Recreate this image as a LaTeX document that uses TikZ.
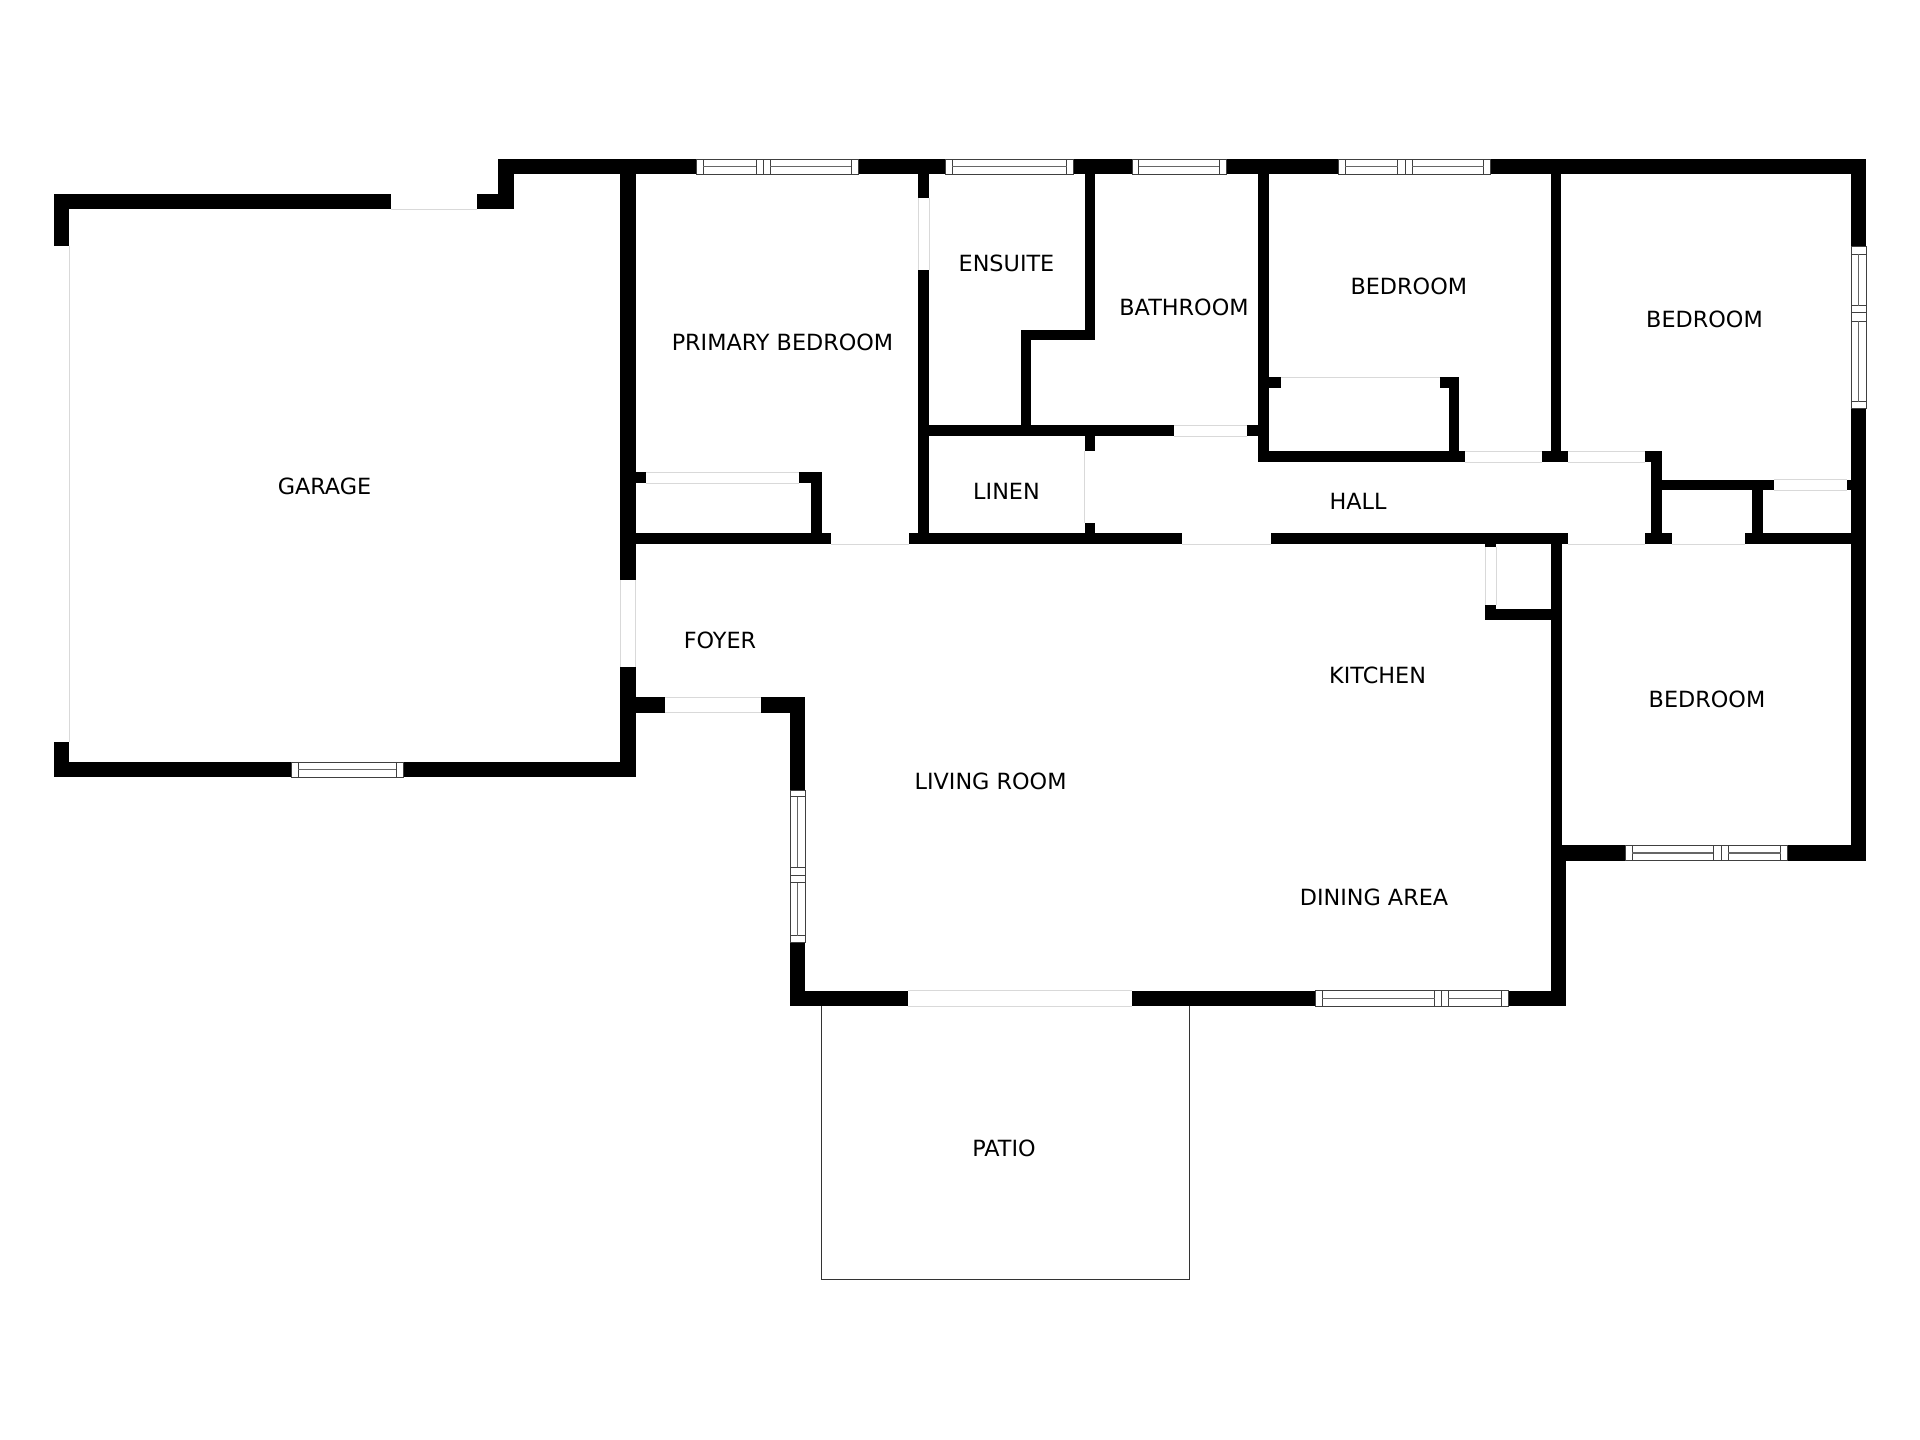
\documentclass[tikz,border=0pt]{standalone}
\usepackage{fontspec}
\setmainfont{DejaVu Sans}
\tikzset{
  wall/.style={fill=black},
  doorline/.style={draw=black!15, line width=0.25pt},
  pane/.style={draw=black!75, line width=0.25pt},
  panemid/.style={draw=black!60, line width=0.4pt},
  room/.style={font=\fontsize{6.35}{7}\selectfont, inner sep=0pt},
}
\begin{document}
\begin{tikzpicture}[x=0.01cm, y=-0.01cm]

    \useasboundingbox (0,0) rectangle (1920,1440);

    % Patio outline
    \draw[line width=0.2pt, draw=black!80] (821,1006) -- (821,1279) -- (1189.5,1279) -- (1189.5,1006);

    % Garage walls
    \fill[wall] (54,194) rectangle (391,209.3);
    \fill[wall] (477,194) rectangle (513.5,209.3);
    \fill[wall] (498,159.3) rectangle (513.5,209.3);
    \fill[wall] (54,194) rectangle (69.3,246);
    \fill[wall] (54,741.7) rectangle (69.3,777.3);
    \fill[wall] (54,762) rectangle (291,777.3);
    \fill[wall] (403,762) rectangle (635.6,777.3);

    % Top outer wall
    \fill[wall] (498,159.3) rectangle (696.3,174.3);
    \fill[wall] (858,159.3) rectangle (945.7,174.3);
    \fill[wall] (1073,159.3) rectangle (1132,174.3);
    \fill[wall] (1226.7,159.3) rectangle (1338.4,174.3);
    \fill[wall] (1490.2,159.3) rectangle (1866,174.3);

    % Right outer wall
    \fill[wall] (1851,159.3) rectangle (1866,246.7);
    \fill[wall] (1851,408.3) rectangle (1866,860.7);

    % Bedroom bottom wall and step
    \fill[wall] (1550.7,845.3) rectangle (1625,860.7);
    \fill[wall] (1787.3,845.3) rectangle (1866,860.7);
    \fill[wall] (1550.7,544) rectangle (1561.7,860.7);
    \fill[wall] (1551,860) rectangle (1566,1006);

    % Living room outer walls
    \fill[wall] (790,990.7) rectangle (907.5,1006);
    \fill[wall] (1131.5,990.7) rectangle (1315,1006);
    \fill[wall] (1508,990.7) rectangle (1566,1006);
    \fill[wall] (790,942) rectangle (805,1006);
    \fill[wall] (790,697) rectangle (805,790);
    \fill[wall] (761,697) rectangle (805,712.7);
    \fill[wall] (635.6,697) rectangle (665,712.7);

    % Wall between garage and rooms
    \fill[wall] (620.4,174.3) rectangle (635.5,580);
    \fill[wall] (620.4,667) rectangle (635.6,777.3);

    % Long wall above the living room
    \fill[wall] (620.4,533.3) rectangle (831,544);
    \fill[wall] (908.6,533.3) rectangle (1182,544);
    \fill[wall] (1271,533.3) rectangle (1568,544);
    \fill[wall] (1645,533.3) rectangle (1671.7,544);
    \fill[wall] (1744.7,533.3) rectangle (1851,544);

    % Primary bedroom closet
    \fill[wall] (635.5,472.3) rectangle (646,483.3);
    \fill[wall] (799,472.3) rectangle (822,483.3);
    \fill[wall] (811.4,472.3) rectangle (822,533.3);

    % Ensuite and bathroom
    \fill[wall] (918,174.3) rectangle (929,197.7);
    \fill[wall] (918,270) rectangle (929,544);
    \fill[wall] (1084.5,174.3) rectangle (1095,340);
    \fill[wall] (1020.8,329.7) rectangle (1095,340);
    \fill[wall] (1020.8,329.7) rectangle (1031.4,425.7);
    \fill[wall] (918,425.5) rectangle (1174.3,436.3);
    \fill[wall] (1246.7,425.5) rectangle (1258,436.3);

    % Linen door stubs
    \fill[wall] (1084.7,436) rectangle (1095.3,450.7);
    \fill[wall] (1084.7,522.7) rectangle (1095.3,533.5);

    % Bedroom closet and hall side
    \fill[wall] (1258,174.3) rectangle (1268.5,462);
    \fill[wall] (1258,377) rectangle (1280.8,388);
    \fill[wall] (1440.4,377) rectangle (1459.2,388);
    \fill[wall] (1448.6,377) rectangle (1459.2,451.5);
    \fill[wall] (1258,451.5) rectangle (1465,462);
    \fill[wall] (1542,451.5) rectangle (1568,462);
    \fill[wall] (1551,174.3) rectangle (1561.2,451.5);
    \fill[wall] (1645,451.5) rectangle (1662,462);
    \fill[wall] (1651.4,451.5) rectangle (1662,544);

    % Small closets at the end of the hall
    \fill[wall] (1662,479.7) rectangle (1774,490);
    \fill[wall] (1847,479.7) rectangle (1851,490);
    \fill[wall] (1752,490) rectangle (1763,533.3);

    % Kitchen nook
    \fill[wall] (1485,544) rectangle (1496,546.7);
    \fill[wall] (1485,605) rectangle (1496,620);
    \fill[wall] (1485,609.5) rectangle (1551,620);

    % Door openings
    \draw[doorline] (391,209.3) -- (477,209.3);
    \draw[doorline] (69.3,246) -- (69.3,741.7);
    \draw[doorline] (620.4,580) -- (620.4,667);
    \draw[doorline] (635.5,580) -- (635.5,667);
    \draw[doorline] (665,697) -- (761,697);
    \draw[doorline] (665,712.7) -- (761,712.7);
    \draw[doorline] (907.5,990.7) -- (1131.5,990.7);
    \draw[doorline] (907.5,1006) -- (1131.5,1006);
    \draw[doorline] (646,472.3) -- (799,472.3);
    \draw[doorline] (646,483.3) -- (799,483.3);
    \draw[doorline] (831,544) -- (908.6,544);
    \draw[doorline] (918,197.7) -- (918,270);
    \draw[doorline] (929,197.7) -- (929,270);
    \draw[doorline] (1084.7,450.7) -- (1084.7,522.7);
    \draw[doorline] (1174.3,425.5) -- (1246.7,425.5);
    \draw[doorline] (1174.3,436.3) -- (1246.7,436.3);
    \draw[doorline] (1182,544) -- (1271,544);
    \draw[doorline] (1280.8,377) -- (1440.4,377);
    \draw[doorline] (1465,451.5) -- (1542,451.5);
    \draw[doorline] (1465,462) -- (1542,462);
    \draw[doorline] (1568,451.5) -- (1645,451.5);
    \draw[doorline] (1568,462) -- (1645,462);
    \draw[doorline] (1568,544) -- (1645,544);
    \draw[doorline] (1671.7,544) -- (1744.7,544);
    \draw[doorline] (1774,479.7) -- (1847,479.7);
    \draw[doorline] (1774,490) -- (1847,490);
    \draw[doorline] (1485,546.7) -- (1485,605);
    \draw[doorline] (1496,546.7) -- (1496,605);

    % Windows in the top wall
    \draw[pane] (696.3,159.3) rectangle (858,174.3);
    \foreach \mx in {703,756,763,770,851} \draw[pane] (\mx,159.3) -- (\mx,174.3);
    \foreach \ma/\mb in {703/756,770/851} \draw[panemid] (\ma,166.8) -- (\mb,166.8);

    \draw[pane] (945.7,159.3) rectangle (1073,174.3);
    \foreach \mx in {952,1066.5} \draw[pane] (\mx,159.3) -- (\mx,174.3);
    \draw[panemid] (952,166.8) -- (1066.5,166.8);

    \draw[pane] (1132,159.3) rectangle (1226.7,174.3);
    \foreach \mx in {1138.7,1219.3} \draw[pane] (\mx,159.3) -- (\mx,174.3);
    \draw[panemid] (1138.7,166.8) -- (1219.3,166.8);

    \draw[pane] (1338.4,159.3) rectangle (1490.2,174.3);
    \foreach \mx in {1345.3,1397.6,1405,1412,1483.7} \draw[pane] (\mx,159.3) -- (\mx,174.3);
    \foreach \ma/\mb in {1345.3/1397.6,1412/1483.7} \draw[panemid] (\ma,166.8) -- (\mb,166.8);

    % Window in the right wall
    \draw[pane] (1851,246.7) rectangle (1866,408.3);
    \foreach \my in {254,305.7,312.7,321.3,401.7} \draw[pane] (1851,\my) -- (1866,\my);
    \foreach \ma/\mb in {254/305.7,321.3/401.7} \draw[panemid] (1858.5,\ma) -- (1858.5,\mb);

    % Window of the lower bedroom
    \draw[pane] (1625,845.3) rectangle (1787.3,860.7);
    \foreach \mx in {1632.3,1713.3,1721,1728,1780.7} \draw[pane] (\mx,845.3) -- (\mx,860.7);
    \foreach \ma/\mb in {1632.3/1713.3,1728/1780.7} \draw[panemid] (\ma,853) -- (\mb,853);

    % Window of the dining area
    \draw[pane] (1315,990.7) rectangle (1508,1006);
    \foreach \mx in {1322,1434.6,1441.7,1448,1501.4} \draw[pane] (\mx,990.7) -- (\mx,1006);
    \foreach \ma/\mb in {1322/1434.6,1448/1501.4} \draw[panemid] (\ma,998.3) -- (\mb,998.3);

    % Window of the living room
    \draw[pane] (790,790) rectangle (805,942);
    \foreach \my in {796.7,867,875,882.7,935.7} \draw[pane] (790,\my) -- (805,\my);
    \foreach \ma/\mb in {796.7/867,882.7/935.7} \draw[panemid] (797.5,\ma) -- (797.5,\mb);

    % Window of the garage
    \draw[pane] (291,762) rectangle (403,777.3);
    \foreach \mx in {298,396} \draw[pane] (\mx,762) -- (\mx,777.3);
    \draw[panemid] (298,769.7) -- (396,769.7);

    % Room labels
    \node[room] (garage) at (324.5,486.7) {GARAGE};
    \node[room] (primary) at (782.5,342) {PRIMARY BEDROOM};
    \node[room] (ensuite) at (1006.5,263.7) {ENSUITE};
    \node[room] (bathroom) at (1184,307.7) {BATHROOM};
    \node[room] (bedroomA) at (1408.8,286.7) {BEDROOM};
    \node[room] (bedroomB) at (1704.5,319.7) {BEDROOM};
    \node[room] (linen) at (1006.5,491.7) {LINEN};
    \node[room] (hall) at (1358,501.5) {HALL};
    \node[room] (foyer) at (720,640.8) {FOYER};
    \node[room] (kitchen) at (1377.6,675.4) {KITCHEN};
    \node[room] (bedroomC) at (1707,699) {BEDROOM};
    \node[room] (living) at (990.6,781.7) {LIVING ROOM};
    \node[room] (dining) at (1374,897.5) {DINING AREA};
    \node[room] (patio) at (1004,1148.5) {PATIO};

\end{tikzpicture}
\end{document}
